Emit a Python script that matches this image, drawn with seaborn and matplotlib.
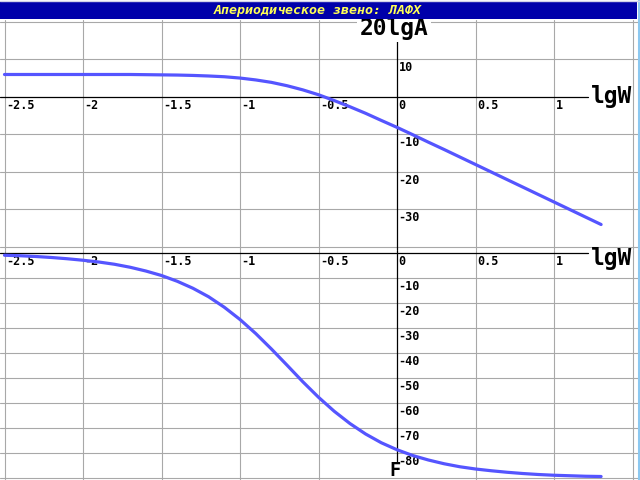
import matplotlib
matplotlib.use("Agg")
import matplotlib.pyplot as plt
import seaborn as sns
import pandas as pd
from matplotlib.patches import Rectangle
from matplotlib.lines import Line2D

# ---------------- data ----------------
title = "Апериодическое звено: ЛАФХ"
amp_label = "20lgA"
phase_label = "F"
x_label = "lgW"

lgw = [-2.5, -2.4, -2.3, -2.2, -2.1, -2.0, -1.9, -1.8, -1.7, -1.6,
       -1.5, -1.4, -1.3, -1.2, -1.1, -1.0, -0.9, -0.8, -0.7, -0.6,
       -0.5, -0.4, -0.3, -0.2, -0.1, 0.0, 0.1, 0.2, 0.3, 0.4,
       0.5, 0.6, 0.7, 0.8, 0.9, 1.0, 1.1, 1.2, 1.3]
amp_db = [6.0, 6.0, 6.0, 6.0, 6.0, 6.0, 6.0, 6.0, 6.0, 5.95,
          5.9, 5.85, 5.75, 5.6, 5.4, 5.05, 4.55, 3.9, 3.0, 1.9,
          0.6, -0.95, -2.6, -4.35, -6.25, -8.1, -10.05, -12.05, -14.0, -16.0,
          -18.0, -20.0, -22.0, -24.0, -26.0, -28.0, -30.0, -32.0, -34.0]
phase_deg = [-0.9, -1.1, -1.4, -1.8, -2.3, -2.9, -3.6, -4.5, -5.7, -7.2,
             -9.0, -11.3, -14.1, -17.5, -21.7, -26.6, -32.2, -38.4, -44.9, -51.5,
             -57.7, -63.3, -68.2, -72.4, -75.9, -78.7, -81.0, -82.8, -84.3, -85.5,
             -86.4, -87.1, -87.7, -88.2, -88.6, -88.9, -89.1, -89.3, -89.4]

x_grid = [-2.5, -2.0, -1.5, -1.0, -0.5, 0.5, 1.0, 1.5]
x_ticks = [-2.5, -2.0, -1.5, -1.0, -0.5, 0.0, 0.5, 1.0]
x_tick_labels = ["-2.5", "-2", "-1.5", "-1", "-0.5", "0", "0.5", "1"]
amp_grid = [20, 10, -10, -20, -30, -40]
amp_ticks = [10, -10, -20, -30]
amp_tick_labels = ["10", "-10", "-20", "-30"]
phase_grid = [-10, -20, -30, -40, -50, -60, -70, -80, -90]
phase_ticks = [-10, -20, -30, -40, -50, -60, -70, -80]
phase_tick_labels = ["-10", "-20", "-30", "-40", "-50", "-60", "-70", "-80"]

# ---------------- style ----------------
sns.set_style("white")
W, H = 640, 480
CURVE = "#5555FF"
GRID = "#A8A8A8"
TICKFONT = dict(family="DejaVu Sans Mono", weight="bold", size=8.5, color="black")
BIGFONT = dict(family="DejaVu Sans Mono", weight="bold", size=16.5, color="black")


def fx(px):
    return px / W


def fy(py):
    return 1 - py / H


fig = plt.figure(figsize=(6.4, 4.8), dpi=100)
fig.patch.set_facecolor("white")

ax_top = fig.add_axes([0, fy(250), 1, 230 / H])
ax_bot = fig.add_axes([0, 0, 1, 230 / H])

xlim = (-397 / 157, 243 / 157)
amp_lim = (-40.8, 20.53)
phase_lim = (-90.8, 1.2)

for ax in (ax_top, ax_bot):
    ax.set_facecolor("white")
    ax.set_xlim(*xlim)
    for s in ax.spines.values():
        s.set_visible(False)
    for xv in x_grid:
        ax.axvline(xv, color=GRID, lw=0.8, zorder=1)
ax_top.set_ylim(*amp_lim)
ax_bot.set_ylim(*phase_lim)

for yv in amp_grid:
    ax_top.axhline(yv, color=GRID, lw=0.8, zorder=1)
for yv in phase_grid:
    ax_bot.axhline(yv, color=GRID, lw=0.8, zorder=1)

# axes lines
ax_top.axhline(0, xmin=0, xmax=588 / W, color="black", lw=0.9, zorder=2)
ax_top.axvline(0, ymin=0, ymax=(250 - 39) / 230, color="black", lw=0.9, zorder=2)
ax_bot.axhline(0, xmin=0, xmax=588 / W, color="black", lw=0.9, zorder=2)
ax_bot.axvline(0, ymin=(480 - 462) / 230, ymax=1, color="black", lw=0.9, zorder=2)

# tick labels
off = (1.1, -1.1)
for ax in (ax_top, ax_bot):
    for xv, lab in zip(x_ticks, x_tick_labels):
        ax.annotate(lab, (xv, 0), xytext=off, textcoords="offset points",
                    ha="left", va="top", zorder=3, **TICKFONT)
for yv, lab in zip(amp_ticks, amp_tick_labels):
    ax_top.annotate(lab, (0, yv), xytext=off, textcoords="offset points",
                    ha="left", va="top", zorder=3, **TICKFONT)
for yv, lab in zip(phase_ticks, phase_tick_labels):
    ax_bot.annotate(lab, (0, yv), xytext=off, textcoords="offset points",
                    ha="left", va="top", zorder=3, **TICKFONT)

# curves
df = pd.DataFrame({"lgW": lgw, "amp": amp_db, "phase": phase_deg})
sns.lineplot(data=df, x="lgW", y="amp", ax=ax_top, color=CURVE, lw=2.3,
             zorder=5, legend=False)
sns.lineplot(data=df, x="lgW", y="phase", ax=ax_bot, color=CURVE, lw=2.3,
             zorder=5, legend=False)
for ax in (ax_top, ax_bot):
    ax.set_xlabel("")
    ax.set_ylabel("")
    ax.set_xticks([])
    ax.set_yticks([])
    ax.set_xlim(*xlim)
ax_top.set_ylim(*amp_lim)
ax_bot.set_ylim(*phase_lim)

# big labels
fig.text(fx(394), fy(28), amp_label, ha="center", va="center", zorder=10,
         bbox=dict(boxstyle="square,pad=0.1", fc="white", ec="none"), **BIGFONT)
fig.text(fx(591), fy(96), x_label, ha="left", va="center", zorder=10, **BIGFONT)
fig.text(fx(591), fy(258), x_label, ha="left", va="center", zorder=10, **BIGFONT)
fig.text(fx(395), fy(479.6), phase_label, ha="center", va="bottom", zorder=10,
         family="DejaVu Sans Mono", weight="bold", size=13.5, color="black")

# title bar and window border
fig.patches.append(Rectangle((0, fy(19)), fx(637), 17 / H, transform=fig.transFigure,
                             facecolor="#0000AA", edgecolor="none", zorder=20))
fig.text(fx(318), fy(10.5), title, ha="center", va="center", zorder=21,
         family="DejaVu Sans Mono", weight="bold", style="italic", size=9.5,
         color="#FFFF55")
fig.lines.append(Line2D([fx(638.5), fx(638.5)], [0, 1], transform=fig.transFigure,
                        color="#8CC8F0", lw=1.5, zorder=22))
fig.lines.append(Line2D([0, 1], [fy(0.7), fy(0.7)], transform=fig.transFigure,
                        color="#D0D0E8", lw=1.0, zorder=22))

fig.savefig("out.png", dpi=100)
